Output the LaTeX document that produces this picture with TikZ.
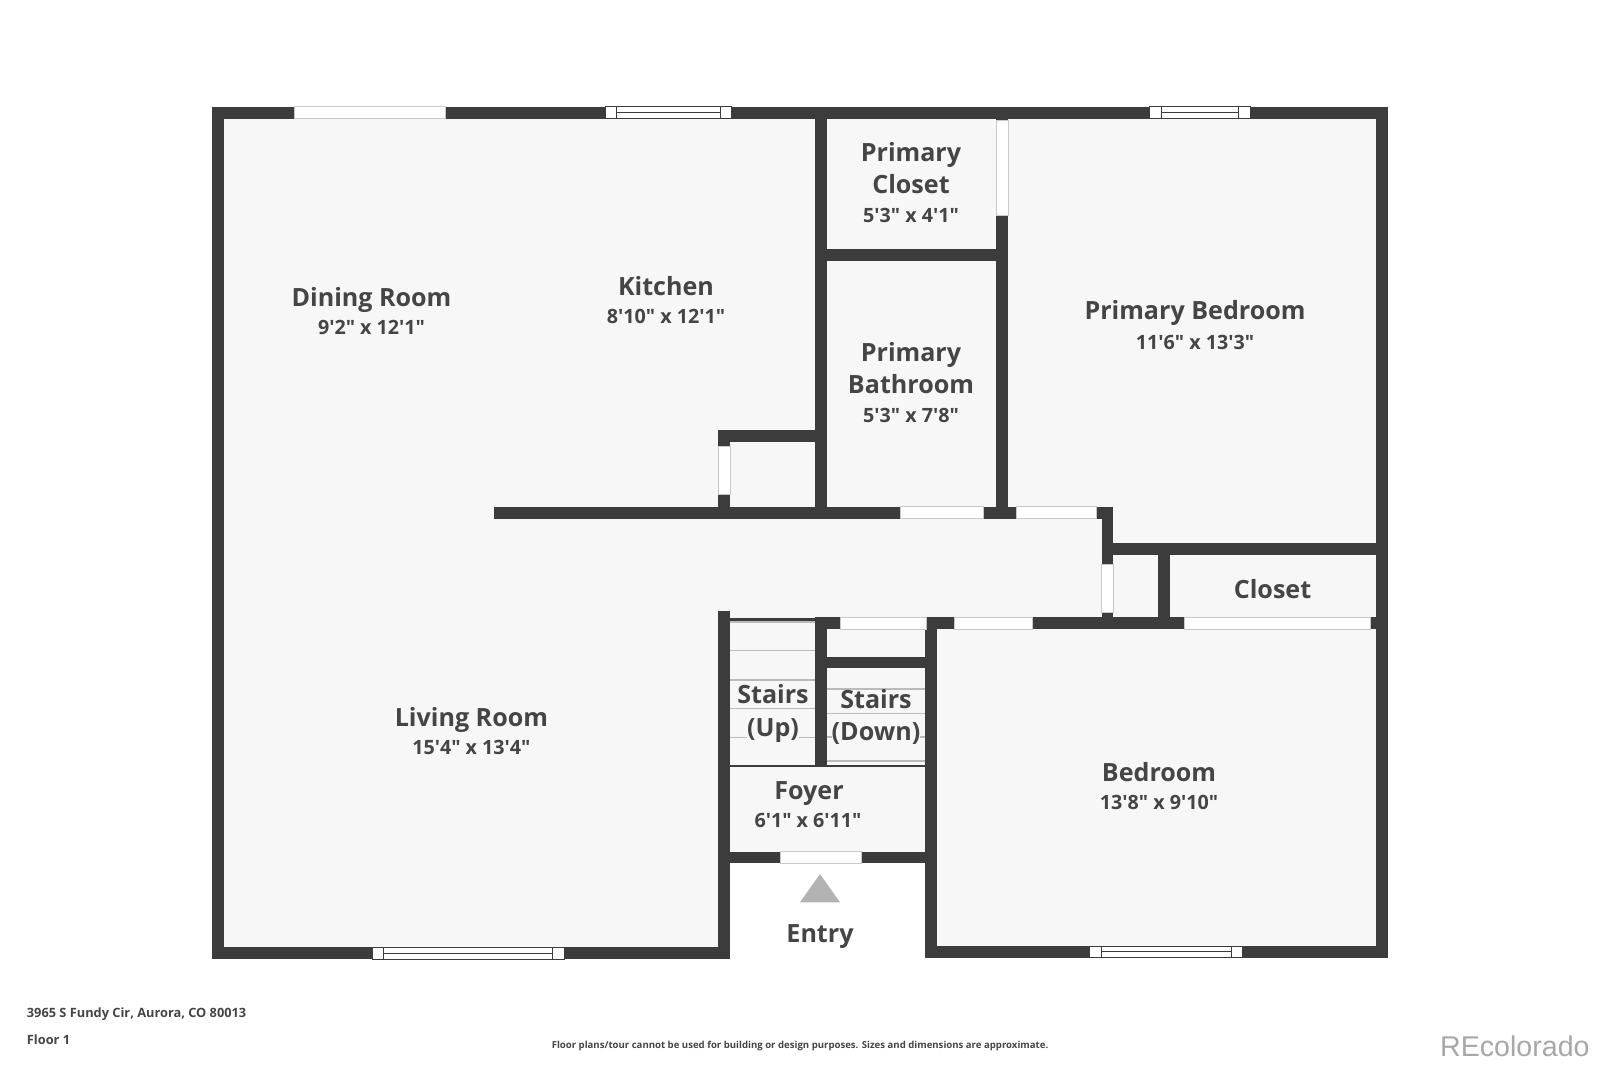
\documentclass[tikz,border=0pt]{standalone}
\usepackage{fontspec}
\newfontfamily\labelfont{Open Sans}
\newfontfamily\logofont{Liberation Sans}
\definecolor{wallc}{HTML}{3C3C3C}
\definecolor{floorc}{HTML}{F7F7F7}
\definecolor{textc}{HTML}{454545}
\definecolor{openedge}{HTML}{C8C8C8}
\definecolor{stairc}{HTML}{BBBBBB}
\definecolor{triac}{HTML}{B3B3B3}
\definecolor{logoc}{HTML}{A8A8A8}
\tikzset{
  wall/.style={fill=wallc,draw=none},
  floorarea/.style={fill=floorc,draw=none},
  doorgap/.style={fill=white,draw=openedge,line width=0.5pt},
  windowbox/.style={fill=white,draw=wallc,line width=0.5pt},
  stairline/.style={draw=stairc,line width=0.7pt},
  roomname/.style={text=textc,anchor=base,yshift=0.4pt,font=\labelfont\fontsize{12.55}{16}\selectfont\bfseries,inner sep=0pt},
  roomsize/.style={text=textc,anchor=base,font=\labelfont\fontsize{9.85}{12}\selectfont\bfseries,inner sep=0pt},
  foot/.style={text=textc,anchor=base west,font=\labelfont\fontsize{6.4}{8}\selectfont\bfseries,inner sep=0pt},
}
\newcommand{\winH}[5]{%
  \foreach \ya/\yb in {#5}{
    \draw[windowbox] (#1,\ya) rectangle (#2,\yb);
    \draw[windowbox] (#3,\ya) -- (#3,\yb) (#4,\ya) -- (#4,\yb);
    \draw[windowbox] (#3,{(\ya+\yb)/2}) -- (#4,{(\ya+\yb)/2});
  }}
\begin{document}
\begin{tikzpicture}[x=0.5pt,y=-0.5pt]
\useasboundingbox[fill=white] (0,0) rectangle (1600,1066);
% floor
\fill[floorarea] (212,106.7) -- (1388,106.7) -- (1388,957.5) -- (925,957.5) -- (925,863) -- (730,863) -- (730,959) -- (212,959) -- cycle;
% walls
\fill[wall] (212,106.7) rectangle (1388,118.7);
\fill[wall] (212,106.7) rectangle (224,959);
\fill[wall] (212,947) rectangle (730,959);
\fill[wall] (718,611.3) rectangle (730,959);
\fill[wall] (1376,106.7) rectangle (1388,957.5);
\fill[wall] (925,946) rectangle (1388,957.5);
\fill[wall] (925,617.3) rectangle (936.7,957.5);
\fill[wall] (815,118) rectangle (826.7,518.7);
\fill[wall] (996,118) rectangle (1008,518.7);
\fill[wall] (826,249) rectangle (1008,261);
\fill[wall] (494,506.7) rectangle (1113.3,518.7);
\fill[wall] (718,430) rectangle (826,442);
\fill[wall] (718,430) rectangle (730,518.7);
\fill[wall] (1101.7,506.7) rectangle (1113.3,629.3);
\fill[wall] (1113,543.3) rectangle (1388,555);
\fill[wall] (1158.3,555) rectangle (1170,618);
\fill[wall] (815,617.3) rectangle (1388,629.3);
\fill[wall] (730,618.3) rectangle (815,620.7);
\fill[wall] (815,617.3) rectangle (826.7,765.7);
\fill[wall] (826,656.7) rectangle (926,668.3);
\fill[wall] (730,764.7) rectangle (925,766.7);
\fill[wall] (730,851.7) rectangle (925,863.3);
% door gaps
\draw[doorgap] (294.5,106.7) rectangle (445,118.7);
\draw[doorgap] (900,506.7) rectangle (983.3,518.7);
\draw[doorgap] (1016.7,506.7) rectangle (1096.7,518.7);
\draw[doorgap] (840.7,617.3) rectangle (926,629.3);
\draw[doorgap] (954.7,617.3) rectangle (1032.7,629.3);
\draw[doorgap] (1184,617.3) rectangle (1370.7,629.3);
\draw[doorgap] (780.7,851.7) rectangle (861.7,863.3);
\draw[doorgap] (718,446) rectangle (730,494.7);
\draw[doorgap] (996,120) rectangle (1008,215);
\draw[doorgap] (1101.7,564) rectangle (1113.3,612);
% windows
\winH{605}{731.6}{616.8}{720}{106.7/118.7}
\winH{1149}{1250}{1161}{1238.3}{106.7/118.7}
\winH{372}{564.7}{383.7}{552.8}{947/959}
\winH{1089}{1242}{1101}{1231.6}{946/957.5}
% stairs
\draw[stairline] (730,622) -- (815,622);
\draw[stairline] (730,650.7) -- (815,650.7);
\draw[stairline] (730,680) -- (815,680);
\draw[stairline] (730,708.7) -- (815,708.7);
\draw[stairline] (730,737.3) -- (815,737.3);
\draw[stairline] (826.7,689) -- (925,689);
\draw[stairline] (826.7,713.3) -- (925,713.3);
\draw[stairline] (826.7,737) -- (925,737);
\draw[stairline] (826.7,761) -- (925,761);
% entry arrow
\fill[triac] (820,874) -- (840,902.3) -- (800,902.3) -- cycle;
% labels
\node[roomname] (dining) at (371.5,307) {Dining Room};
\node[roomsize] (diningsz) at (371.5,334) {9'2" x 12'1"};
\node[roomname] (kitchen) at (666,296) {Kitchen};
\node[roomsize] (kitchensz) at (666,323) {8'10" x 12'1"};
\node[roomname] (pc1) at (911,162) {Primary};
\node[roomname] (pc2) at (911,194.5) {Closet};
\node[roomsize] (pcsz) at (911,222) {5'3" x 4'1"};
\node[roomname] (pb1) at (911,362) {Primary};
\node[roomname] (pb2) at (911,394.5) {Bathroom};
\node[roomsize] (pbsz) at (911,422) {5'3" x 7'8"};
\node[roomname] (pbed) at (1195,320) {Primary Bedroom};
\node[roomsize] (pbedsz) at (1195,349) {11'6" x 13'3"};
\node[roomname] (closet) at (1272.5,599.5) {Closet};
\node[roomname] (living) at (471.4,727.5) {Living Room};
\node[roomsize] (livingsz) at (471.4,754.5) {15'4" x 13'4"};
\node[roomname] (stairsa) at (773,704) {Stairs};
\node[roomname,fill=floorc] (stairsb) at (773,737) {(Up)};
\node[roomname] (stairsc) at (876,709) {Stairs};
\node[roomname,fill=floorc] (stairsd) at (876,741) {(Down)};
\node[roomname] (foyer) at (809,800.5) {Foyer};
\node[roomsize] (foyersz) at (808,827.5) {6'1" x 6'11"};
\node[roomname] (entry) at (820,943) {Entry};
\node[roomname] at (1159,782.5) (bedroom) {Bedroom};
\node[roomsize] at (1159,809.5) (bedroomsz) {13'8" x 9'10"};
\node[foot] (addr) at (26.5,1017.5) {3965 S Fundy Cir, Aurora, CO 80013};
\node[foot] (floor) at (26.5,1044) {Floor 1};
\node[text=textc,anchor=base,inner sep=0pt,font=\labelfont\fontsize{4.8}{6}\selectfont\bfseries] (note) at (800,1048.5) {Floor plans/tour cannot be used for building or design purposes. Sizes and dimensions are approximate.};
\node[text=logoc,anchor=base east,inner sep=0pt,font=\logofont\fontsize{14.3}{16}\selectfont] (logo) at (1590,1056) {REcolorado};
\end{tikzpicture}
\end{document}
